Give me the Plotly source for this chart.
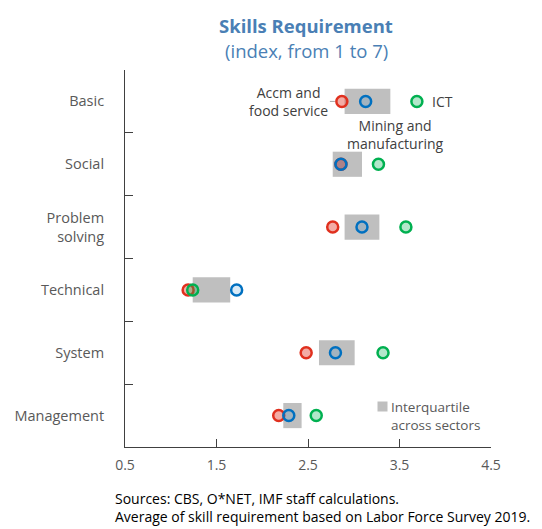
import plotly.graph_objects as go

skills = ["Basic", "Social", "Problem<br>solving", "Technical", "System", "Management"]

# interquartile range across sectors
q1 = [2.90, 2.77, 2.90, 1.24, 2.62, 2.23]
q3 = [3.40, 3.09, 3.28, 1.65, 3.01, 2.43]

accm = [2.87, 2.86, 2.77, 1.19, 2.48, 2.18]
ict = [3.69, 3.27, 3.57, 1.24, 3.32, 2.59]
mining = [3.13, 2.86, 3.09, 1.72, 2.80, 2.29]

TITLE_BLUE = "#4a7fb5"
GREY_TXT = "#595959"
FONT = "Open Sans"

fig = go.Figure()

fig.add_trace(go.Bar(
    y=skills, x=[b - a for a, b in zip(q1, q3)], base=q1,
    orientation="h", width=0.4, marker_color="#bfbfbf",
    marker_line_width=0, showlegend=False, hoverinfo="skip"
))

series = [
    ("Accm and food service", accm, "#e0301e", "rgba(224,48,30,0.4)"),
    ("ICT", ict, "#00b050", "rgba(0,176,80,0.3)"),
    ("Mining and manufacturing", mining, "#0070c0", "rgba(0,112,192,0.15)"),
]
for name, vals, edge, fill in series:
    fig.add_trace(go.Scatter(
        x=vals, y=skills, mode="markers", name=name,
        marker=dict(size=11, color=fill, line=dict(color=edge, width=2.5)),
        showlegend=False
    ))

# page body has an 8px margin, so the figure is 8px smaller and shifted
fig.update_layout(
    width=534, height=521,
    margin=dict(l=117, r=51, t=62, b=82),
    paper_bgcolor="white", plot_bgcolor="white",
    font=dict(family=FONT, color=GREY_TXT, size=14),
    showlegend=False,
    xaxis=dict(
        range=[0.5, 4.5], tickvals=[0.5, 1.5, 2.5, 3.5, 4.5],
        ticktext=["0.5", "1.5", "2.5", "3.5", "4.5"], automargin=False,
        showgrid=False, zeroline=False, showline=True, linecolor="#404040",
        linewidth=1, ticks="inside", ticklen=8, tickcolor="#404040",
        tickfont=dict(size=14, color=GREY_TXT), ticklabelstandoff=5
    ),
    yaxis=dict(
        type="category", categoryorder="array", categoryarray=skills,
        range=[5.5, -0.5], tickson="boundaries", automargin=False,
        showgrid=False, zeroline=False, showline=True, linecolor="#404040",
        linewidth=1, ticks="inside", ticklen=8, tickcolor="#404040",
        tickfont=dict(size=14.5, color=GREY_TXT), ticklabelstandoff=17
    ),
)

# title and subtitle
fig.add_annotation(text="<b>Skills Requirement</b>", xref="paper", yref="paper",
                   x=0.495, y=1, yshift=45, yanchor="middle", showarrow=False,
                   font=dict(size=18.5, color=TITLE_BLUE))
fig.add_annotation(text="(index, from 1 to 7)", xref="paper", yref="paper",
                   x=0.495, y=1, yshift=20, yanchor="middle", showarrow=False,
                   font=dict(size=18.5, color=TITLE_BLUE))

# series labels
fig.add_annotation(text="Accm and<br>food service", x=accm[0], y=skills[0],
                   ax=-53, ay=0, xanchor="center", showarrow=True, arrowhead=0,
                   arrowcolor="#a6a6a6", arrowwidth=1, standoff=7,
                   font=dict(size=14, color="#404040"), align="center")
fig.add_annotation(text="ICT", x=ict[0], y=skills[0], xshift=13, xanchor="left",
                   showarrow=False, font=dict(size=14, color="#404040"))
fig.add_annotation(text="Mining and<br>manufacturing", x=mining[0], y=skills[0],
                   xshift=30, yshift=-33, xanchor="center", showarrow=False,
                   font=dict(size=14, color="#404040"), align="center")

# interquartile legend
fig.add_annotation(text="", x=3.31, y=skills[5], yshift=9.5, showarrow=False,
                   width=9, height=9, borderpad=0, bgcolor="#bfbfbf")
fig.add_annotation(text="Interquartile<br>across sectors", x=3.40, y=skills[5],
                   xshift=-1, yshift=0, xanchor="left", showarrow=False, align="left",
                   font=dict(size=13.5, color=GREY_TXT))

# footnotes
fig.add_annotation(text="Sources: CBS, O*NET, IMF staff calculations.<br>"
                        "Average of skill requirement based on Labor Force Survey 2019.",
                   xref="paper", yref="paper", x=-0.033, y=0, yshift=-40,
                   xanchor="left", yanchor="top", align="left", showarrow=False,
                   font=dict(size=14, color="#000000"))

fig.write_html("out.html")
